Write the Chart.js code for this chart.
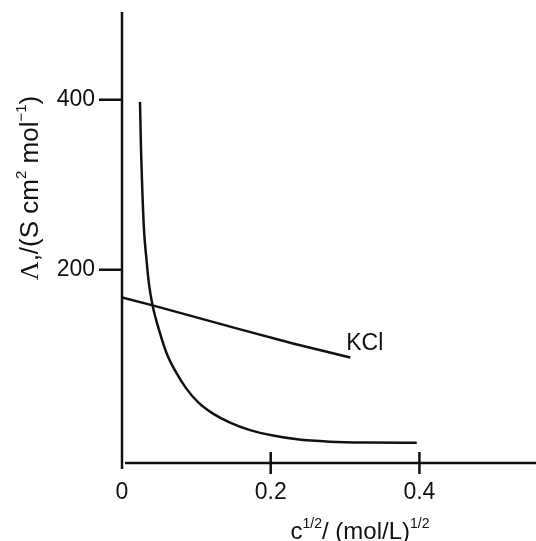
<!DOCTYPE html>
<html>
<head>
<meta charset="utf-8">
<script src="https://cdn.jsdelivr.net/npm/chart.js@4.4.0/dist/chart.umd.min.js"></script>
<style>
  html, body { margin: 0; padding: 0; background: #fff; }
  #wrap { width: 536px; height: 541px; }
</style>
</head>
<body>
<div id="wrap"><canvas id="chart" width="536" height="541"></canvas></div>
<script>
// KCl - strong electrolyte, nearly straight
const kclX = [0, 0.040, 0.159, 0.230, 0.307];
const kclY = [167.6, 158.5, 130, 113.5, 97];

// weak electrolyte - steep drop near zero
const weakX = [0.0242, 0.0256, 0.0273, 0.0296, 0.0330, 0.0363, 0.0408, 0.0511, 0.0605, 0.0726, 0.0861, 0.1022, 0.1224, 0.1453, 0.1722, 0.2031, 0.2354, 0.2797, 0.3335, 0.3964];
const weakY = [397.4, 340.7, 293.7, 246.7, 211.4, 183.2, 159.7, 125.6, 100.9, 79.8, 61.0, 44.5, 31.0, 20.4, 11.6, 5.2, 0.8, -1.9, -3.0, -3.3];

const xTickValues = [0, 0.2, 0.4];
const yTickValues = [200, 400];
const seriesLabel = 'KCl';

const ink = '#111';
const sans = '"Liberation Sans", Arial, sans-serif';
const serif = '"Liberation Serif", "Times New Roman", serif';

// draws a run of text pieces (with superscripts), centred on x
function drawRich(ctx, parts, x, y) {
  let w = 0;
  parts.forEach(p => { ctx.font = `${p.size}px ${p.family || sans}`; p.w = ctx.measureText(p.t).width; w += p.w; });
  let cx = x - w / 2;
  parts.forEach(p => {
    ctx.font = `${p.size}px ${p.family || sans}`;
    ctx.fillText(p.t, cx, y - (p.rise || 0));
    cx += p.w;
  });
}

const axesPlugin = {
  id: 'axes',
  afterDraw(chart) {
    const { ctx, chartArea: a, scales: { x, y } } = chart;
    ctx.save();
    ctx.strokeStyle = ink;
    ctx.lineWidth = 2.5;
    const x0 = x.getPixelForValue(0);
    const y0 = a.bottom;
    ctx.beginPath();
    ctx.moveTo(x0, a.top); ctx.lineTo(x0, y0 + 6);
    ctx.moveTo(x0 + 3, y0); ctx.lineTo(a.right, y0);
    yTickValues.forEach(v => {
      const py = y.getPixelForValue(v);
      ctx.moveTo(x0 - 23, py); ctx.lineTo(x0, py);
    });
    xTickValues.filter(v => v > 0).forEach(v => {
      const px = x.getPixelForValue(v);
      ctx.moveTo(px, y0 - 11); ctx.lineTo(px, y0 + 11);
    });
    ctx.stroke();

    ctx.fillStyle = ink;
    ctx.textBaseline = 'alphabetic';

    // series label at the end of the KCl line
    const last = kclX.length - 1;
    ctx.font = `23px ${sans}`;
    ctx.fillText(seriesLabel, x.getPixelForValue(kclX[last]) - 4, y.getPixelForValue(kclY[last]) - 7);

    // x title
    drawRich(ctx, [
      { t: 'c', size: 24 },
      { t: '1/2', size: 14, rise: 11 },
      { t: '/ (mol/L)', size: 24 },
      { t: '1/2', size: 14, rise: 11 }
    ], 360, 539);

    // y title (rotated)
    ctx.translate(38, 188);
    ctx.rotate(-Math.PI / 2);
    drawRich(ctx, [
      { t: 'Λ', size: 26, family: serif },
      { t: ',/(S cm', size: 26 },
      { t: '2', size: 15, rise: 12 },
      { t: ' mol', size: 26 },
      { t: '−1', size: 15, rise: 12 },
      { t: ')', size: 26 }
    ], 0, 0);
    ctx.restore();
  }
};

new Chart(document.getElementById('chart'), {
  type: 'line',
  data: {
    datasets: [
      {
        label: seriesLabel,
        data: kclX.map((v, i) => ({ x: v, y: kclY[i] })),
        borderColor: ink, borderWidth: 2.5, pointRadius: 0, tension: 0
      },
      {
        label: 'weak',
        data: weakX.map((v, i) => ({ x: v, y: weakY[i] })),
        borderColor: ink, borderWidth: 2.5, pointRadius: 0,
        cubicInterpolationMode: 'monotone'
      }
    ]
  },
  options: {
    responsive: false,
    animation: false,
    layout: { padding: { top: 12, left: 0, right: 0, bottom: 0 } },
    plugins: { legend: { display: false }, tooltip: { enabled: false } },
    scales: {
      x: {
        type: 'linear', min: 0, max: 0.5568,
        grid: { display: false, drawTicks: false },
        border: { display: false },
        afterBuildTicks: s => { s.ticks = xTickValues.map(v => ({ value: v })); },
        afterFit: s => { s.height = 78; s.paddingLeft = 0; s.paddingRight = 0; },
        ticks: { color: ink, font: { family: sans, size: 23 }, padding: 16, maxRotation: 0, autoSkip: false, callback: v => String(v) }
      },
      y: {
        type: 'linear', min: -27, max: 503,
        grid: { display: false, drawTicks: false },
        border: { display: false },
        afterBuildTicks: s => { s.ticks = yTickValues.map(v => ({ value: v })); },
        afterFit: s => { s.width = 122; s.paddingTop = 0; s.paddingBottom = 0; },
        ticks: { color: ink, font: { family: sans, size: 23 }, padding: 27, autoSkip: false, callback: v => String(v) }
      }
    }
  },
  plugins: [axesPlugin]
});
</script>
</body>
</html>
